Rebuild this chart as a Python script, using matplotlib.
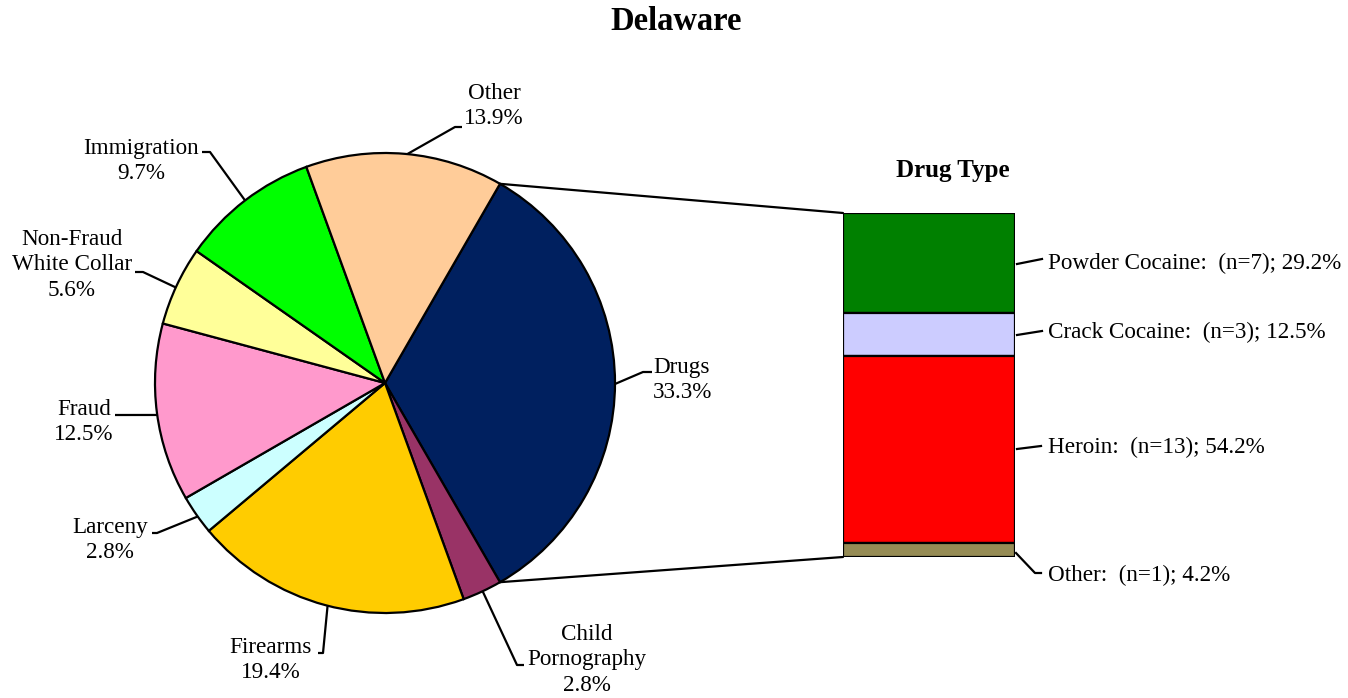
import numpy as np
import matplotlib
matplotlib.use("Agg")
import matplotlib.pyplot as plt
from matplotlib.patches import ConnectionPatch

plt.rcParams['font.family'] = ['Liberation Serif', 'DejaVu Serif']

W, H = 1348, 698

# offence types (clockwise from Drugs)
offense_labels = ['Drugs', 'Child\nPornography', 'Firearms', 'Larceny', 'Fraud',
                  'Non-Fraud\nWhite Collar', 'Immigration', 'Other']
offense_counts = [24, 2, 14, 2, 9, 4, 7, 10]
offense_pct = ['33.3%', '2.8%', '19.4%', '2.8%', '12.5%', '5.6%', '9.7%', '13.9%']
offense_colors = ['#00205F', '#993366', '#FFCC00', '#CCFFFF', '#FF99CC',
                  '#FFFF99', '#00FF00', '#FFCC99']

# drug types (top to bottom in the bar)
drug_labels = ['Powder Cocaine:  (n=7); 29.2%', 'Crack Cocaine:  (n=3); 12.5%',
               'Heroin:  (n=13); 54.2%', 'Other:  (n=1); 4.2%']
drug_counts = [7, 3, 13, 1]
drug_colors = ['#008000', '#CCCCFF', '#FF0000', '#968C55']

FS = 16.7

fig = plt.figure(figsize=(W / 100, H / 100), dpi=100)
ax = fig.add_axes([0, 0, 1, 1])


def P(x, y):
    # pixel (from top) -> data coords of the full-figure axes
    return x, H - y


cx, cy = P(385, 383)
R = 230
wedges, _ = ax.pie(offense_counts, colors=offense_colors, startangle=60,
                   counterclock=False, center=(cx, cy), radius=R,
                   wedgeprops=dict(edgecolor='black', linewidth=1.6))
ax.set_xlim(0, W)
ax.set_ylim(0, H)
ax.set_aspect('equal')
ax.axis('off')


def rim(ang):
    a = np.deg2rad(ang)
    return cx + R * np.cos(a), cy + R * np.sin(a)


# label layout: rim point (pixels), elbow, end of leader, text centre
label_layout = [
    ((617, 384), (643, 372), (652, 372), (682, 380)),
    ((483, 592), (517, 665), (524, 665), (587, 660)),
    ((327, 608), (323, 653), (318, 653), (271, 660)),
    ((197, 517), (157, 533), (152, 533), (110, 540)),
    ((157, 415), (122, 415), (115, 415), (84, 422)),
    ((177, 288), (143, 272), (135, 272), (72, 265)),
    ((247, 203), (210, 152), (202, 152), (141, 161)),
    ((407, 157), (455, 127), (462, 127), (494, 106)),
]
for lab, pct, (rp, elbow, end, tpos) in zip(offense_labels, offense_pct, label_layout):
    # snap the rim point onto the pie edge
    dx, dy = rp[0] - 385, 383 - rp[1]
    ex, ey = rim(np.degrees(np.arctan2(dy, dx)))
    xs = [ex, P(*elbow)[0], P(*end)[0]]
    ys = [ey, P(*elbow)[1], P(*end)[1]]
    ax.plot(xs, ys, color='black', lw=1.6, solid_capstyle='butt')
    ax.text(*P(*tpos), lab + '\n' + pct, ha='center', va='center',
            fontsize=FS, linespacing=1.26)

ax.text(*P(676, 22), 'Delaware', ha='center', va='center',
        fontsize=23.5, fontweight='bold')

# stacked bar for drug types
bx0, bx1, by0, by1 = 843, 1015, 213, 557
ax2 = fig.add_axes([bx0 / W, (H - by1) / H, (bx1 - bx0) / W, (by1 - by0) / H])
total = sum(drug_counts)
tops = total - np.cumsum([0] + drug_counts[:-1])
bottoms = tops - np.array(drug_counts)
ax2.bar([0] * len(drug_counts), drug_counts, bottom=bottoms, width=1.0,
        color=drug_colors, edgecolor='black', linewidth=1.6)
ax2.set_xlim(-0.5, 0.5)
ax2.set_ylim(0, total)
ax2.axis('off')

ax.text(*P(953, 171), 'Drug Type', ha='center', va='center',
        fontsize=18, fontweight='bold')

bar_leaders = [
    [(1017, 264), (1042, 259)],
    [(1017, 335), (1042, 331)],
    [(1017, 449), (1041, 446)],
    [(1016, 553), (1035, 573), (1041, 573)],
]
bar_text_y = [263, 332, 447, 575]
for lab, pts, ty in zip(drug_labels, bar_leaders, bar_text_y):
    xs = [P(*p)[0] for p in pts]
    ys = [P(*p)[1] for p in pts]
    ax.plot(xs, ys, color='black', lw=1.6)
    ax.text(*P(1048, ty), lab, ha='left', va='center', fontsize=FS)

# connectors between Drugs wedge and the bar
w0 = wedges[0]
for th, yb in [(w0.theta2, total), (w0.theta1, 0)]:
    px, py = rim(th)
    con = ConnectionPatch(xyA=(px, py), coordsA=ax.transData,
                          xyB=(-0.5, yb), coordsB=ax2.transData,
                          color='black', lw=1.6)
    fig.add_artist(con)

fig.savefig('out.png', dpi=100)
